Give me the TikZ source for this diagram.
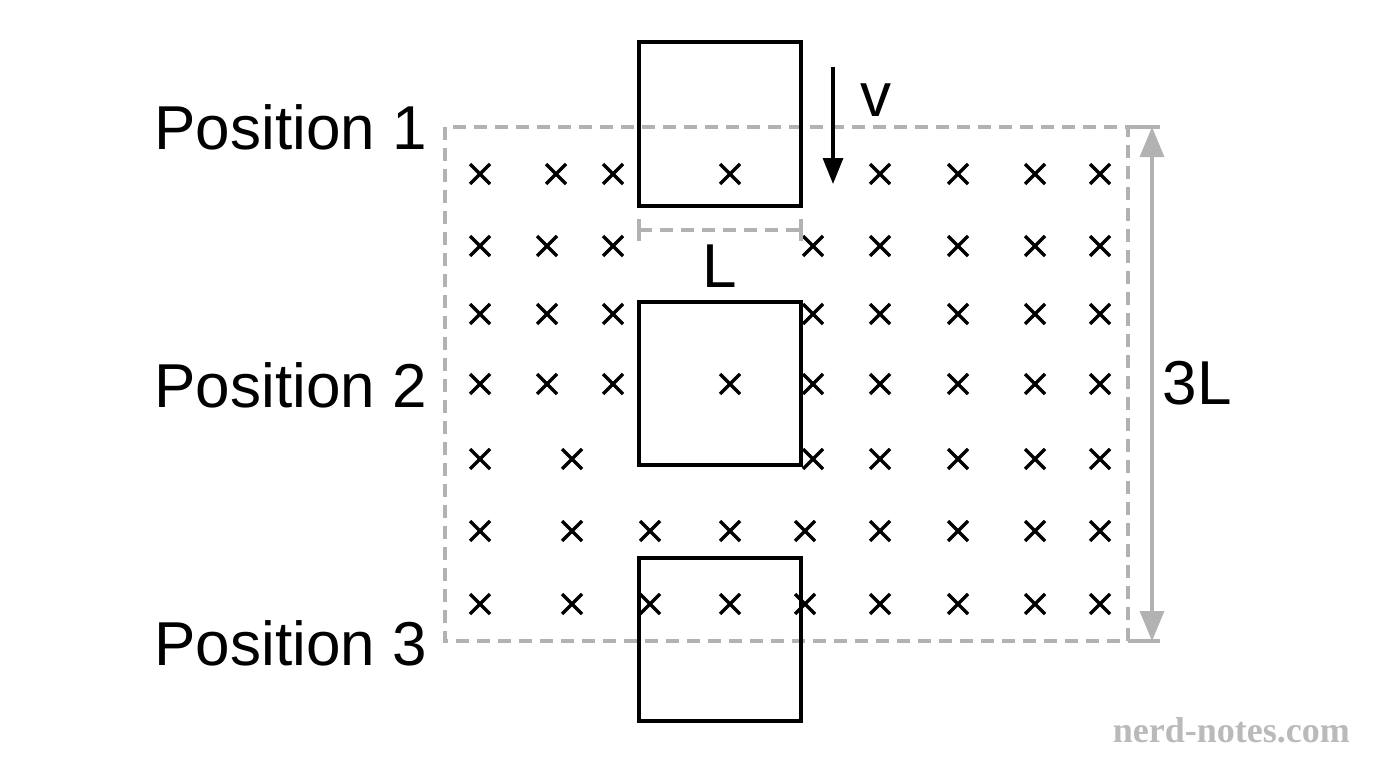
\documentclass[tikz,border=0pt]{standalone}
\usepackage{fontspec}
\setmainfont{Liberation Sans}
\newfontfamily\wmfont{Liberation Serif}
\usetikzlibrary{arrows.meta}
\definecolor{dgray}{RGB}{178,178,178}
\begin{document}
\begin{tikzpicture}[x=1pt,y=-1pt,
  box/.style={draw=black,line width=4.5pt},
  gdash/.style={draw=dgray,line width=3.2pt,dash pattern=on 13pt off 8pt},
  lbl/.style={font=\fontsize{62}{66}\selectfont,inner sep=0pt},
  xm/.style={line width=3.4pt}]
\useasboundingbox (0,0) rectangle (1376,768);
\fill[white] (0,0) rectangle (1376,768);
% field
\draw[gdash] (445,127) rectangle (1128,641);
% crosses
\newcommand{\xmark}[2]{\draw[xm] (#1-10,#2-10) -- (#1+10,#2+10) (#1-10,#2+10) -- (#1+10,#2-10);}
\foreach \x in {480,556,613,730,880,958,1035,1100} {\xmark{\x}{174}}
\foreach \x in {480,547,613,813,880,958,1035,1100} {\xmark{\x}{246}\xmark{\x}{314}}
\foreach \x in {480,547,613,730,813,880,958,1035,1100} {\xmark{\x}{384}}
\foreach \x in {480,572,813,880,958,1035,1100} {\xmark{\x}{459}}
\foreach \x in {480,572,650,730,805,880,958,1035,1100} {\xmark{\x}{531}\xmark{\x}{604}}
% loops
\node[box,minimum width=162pt,minimum height=164pt,inner sep=0pt] (b1) at (720,124) {};
\node[box,minimum width=162pt,minimum height=163pt,inner sep=0pt] (b2) at (720,383.5) {};
\node[box,minimum width=162pt,minimum height=163pt,inner sep=0pt] (b3) at (720,639.5) {};
% labels
\node[lbl,anchor=east] (p1) at (427,127) {Position 1};
\node[lbl,anchor=east] (p2) at (427,385) {Position 2};
\node[lbl,anchor=east] (p3) at (427,643) {Position 3};
% velocity
\coordinate (va) at (833,67);
\coordinate (vb) at (833,184);
\draw[line width=3.2pt,-{Triangle[length=26pt,width=20pt]}] (va) -- (vb);
\node[lbl] (v) at (876,100) {v};
% L dimension
\coordinate (la) at (639,230);
\coordinate (lb) at (801,230);
\draw[gdash] (la) -- (lb);
\draw[dgray,line width=3.2pt] (639,219) -- (639,241) (801,219) -- (801,241);
\node[lbl] (L) at (720,266) {L};
% 3L
\coordinate (ta) at (1152,127);
\coordinate (tb) at (1152,641);
\draw[dgray,line width=3.2pt] (1128,127) -- (1160,127) (1128,641) -- (1160,641);
\draw[dgray,line width=3.2pt,{Triangle[length=30pt,width=24pt]}-{Triangle[length=30pt,width=24pt]}] (ta) -- (tb);
\node[lbl] (tl) at (1197,383) {3L};
% watermark
\node[font=\wmfont\bfseries\fontsize{36}{38}\selectfont,text=dgray!90,anchor=east,inner sep=0pt] (wm) at (1350,730) {nerd-notes.com};
\end{tikzpicture}
\end{document}
